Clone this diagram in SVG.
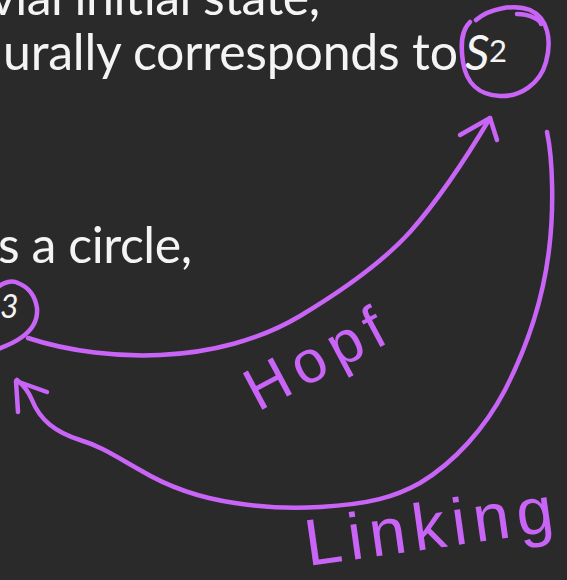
<svg xmlns="http://www.w3.org/2000/svg" width="567" height="580" viewBox="0 0 567 580">
  <style>
    .txt { font-family: Lato, "Open Sans", "Liberation Sans", sans-serif; fill: #f4f4f4; }
    .ink { fill: none; stroke: #c865f6; stroke-width: 4.5; stroke-linecap: round; stroke-linejoin: round; }
    .hand { font-family: "Liberation Sans", "DejaVu Sans", sans-serif; fill: #c865f6; }
  </style>
  <rect x="0" y="0" width="567" height="580" fill="#2a2a2a"/>

  <g id="text-line1">
    <text class="txt" x="-10" y="15" font-size="50" textLength="330">vial initial state,</text>
  </g>

  <g id="node-S2">
    <text class="txt" x="3" y="70" font-size="50" textLength="455">urally corresponds to</text>
    <text class="txt" x="465" y="70" font-size="48" font-style="italic">S</text>
    <text class="txt" x="489" y="62" font-size="31">2</text>
    <path class="ink" d="M 476 20 C 490 8, 515 4, 530 10 C 548 18, 552 40, 546 62 C 540 84, 520 97, 500 96 C 478 95, 466 82, 463 62 C 460 42, 462 30, 470 22 M 517 14 C 530 14, 540 20, 541 24"/>
  </g>

  <g id="text-line3">
    <text class="txt" x="-2" y="263" font-size="50" textLength="194">s a circle,</text>
  </g>

  <g id="node-S3">
    <text class="txt" x="0" y="318" font-size="32" font-style="italic">3</text>
    <path class="ink" d="M -2 287 C 4 282, 12 280, 18 283 C 28 287, 35 295, 37 308 C 38 320, 32 330, 22 337 C 14 343, 6 346, -2 349"/>
  </g>

  <g id="connectors">
    <path id="hopf-arrow" class="ink" d="M 28 338 C 70 352, 120 357, 160 355 C 210 353, 260 340, 300 316 C 340 292, 380 265, 410 232 C 440 198, 465 160, 490 118"/>
    <path class="ink" stroke-width="5.5" d="M 460 135 L 490 118 L 497 140"/>
    <path id="linking-arrow" class="ink" d="M 547 132 C 553 160, 554 210, 549 250 C 543 300, 528 345, 505 390 C 485 428, 455 462, 420 483 C 395 497, 370 504, 320 507 C 290 509, 260 507, 235 503 C 200 498, 170 488, 140 470 C 115 456, 100 446, 80 440 C 55 432, 40 420, 32 400 C 28 390, 22 384, 17 380"/>
    <path class="ink" stroke-width="5.5" d="M 18 412 L 16 381 L 47 392"/>
  </g>

  <g id="labels">
    <text class="hand" font-size="60" textLength="150" transform="translate(258 412) rotate(-28)">Hopf</text>
    <text class="hand" font-size="66" textLength="250" transform="translate(308 566) rotate(-8)">Linking</text>
  </g>
</svg>
